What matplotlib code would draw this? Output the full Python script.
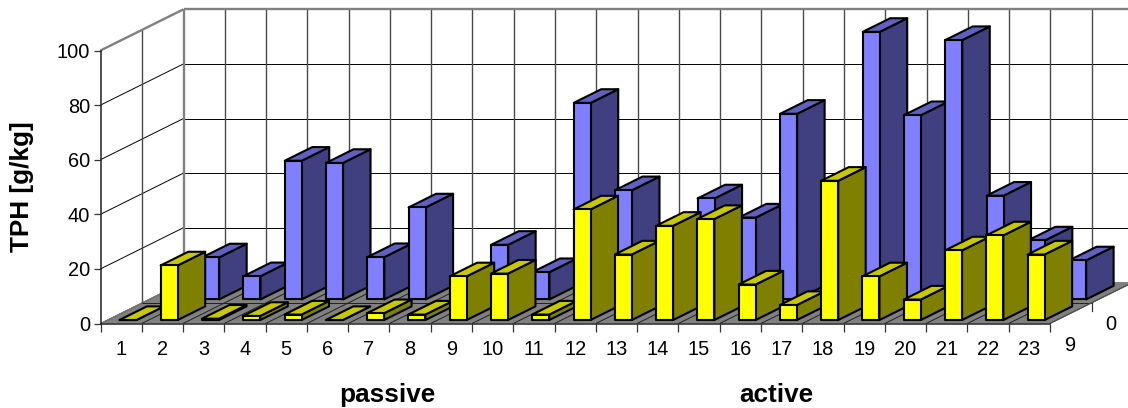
import matplotlib
matplotlib.use("Agg")
import matplotlib.pyplot as plt
from matplotlib.patches import Polygon

plt.rcParams['font.family'] = ['Liberation Sans', 'DejaVu Sans']

categories = [str(i) for i in range(1, 24)]
series_front = [0, 20, 0.5, 1.5, 2, 0, 2.5, 2, 16, 17, 2, 40.5, 24, 34.5, 37, 13, 5.5, 51, 16, 7.5, 25.5, 31, 24]
series_back = [6, 15.4, 8.5, 50.8, 50, 15.5, 33.7, 3, 20, 10, 72, 40, 15, 37, 30, 68, 20, 98, 67.5, 95, 38, 21.6, 14.3]
depth_labels = ['9', '0']
y_ticks = [0, 20, 40, 60, 80, 100]

W, H = 1128, 408
L, R, B, T = 100.5, 1050.0, 323.5, 50.5
fig = plt.figure(figsize=(W / 100, H / 100), dpi=100, facecolor='white')
ax = fig.add_axes([L / W, 1 - B / H, (R - L) / W, (B - T) / H])
ax.set_xlim(0, len(categories))
ax.set_ylim(0, 100)
ax.patch.set_visible(False)

PX_X = (R - L) / len(categories)   # pixels per category
PX_Y = (B - T) / 100               # pixels per value unit
ROW_DX = 41.5 / PX_X               # one depth row, in categories
ROW_DY = 20.6 / PX_Y               # one depth row, in value units
N_ROWS = len(depth_labels)


def proj(x, v, d):
    return x + d * ROW_DX, v + d * ROW_DY


GRID = '#000000'
WALL = '#808080'


def line(p, q, color=GRID, lw=0.7, z=1):
    ax.plot([p[0], q[0]], [p[1], q[1]], color=color, lw=lw, clip_on=False, zorder=z,
            solid_capstyle='butt')


n = len(categories)
# floor
ax.add_patch(Polygon([proj(0, 0, 0), proj(n, 0, 0), proj(n, 0, N_ROWS), proj(0, 0, N_ROWS)],
                     closed=True, fc=WALL, ec='none', clip_on=False, zorder=0.5))
# walls' grid
for v in y_ticks[1:-1] + [0]:
    line(proj(0, v, 0), proj(0, v, N_ROWS), GRID if v else WALL)
    line(proj(0, v, N_ROWS), proj(n, v, N_ROWS), GRID if v else WALL)
for c in range(1, n + 1):
    line(proj(c, 0, N_ROWS), proj(c, 100, N_ROWS), '#4a4a4a', 1.0)
line(proj(0, 0, 1), proj(0, 100, 1), '#4a4a4a', 1.0)
line(proj(0, 100, 0), proj(0, 100, N_ROWS), WALL, 1.7, 1.5)
line(proj(0, 100, N_ROWS), proj(n, 100, N_ROWS), WALL, 1.7, 1.5)
line(proj(0, 0, N_ROWS), proj(0, 100, N_ROWS), WALL, 1.7, 1.5)
# floor grid
for c in range(0, n + 1):
    line(proj(c, 0, 0), proj(c, 0, N_ROWS), '#222222', 0.7, 0.8)
line(proj(0, 0, 1), proj(n, 0, 1), '#222222', 0.7, 0.8)

BAR_W = 17.0 / PX_X
BAR_START = 18.9 / PX_X - 7.0 / 41.5 * ROW_DX
GAP_D = 7.0 / 41.5
BAR_D = 27.5 / 41.5


def bar(i, h, row, cols, z):
    x0 = i + BAR_START
    x1 = x0 + BAR_W
    d0 = row + GAP_D
    d1 = d0 + BAR_D
    kw = dict(closed=True, ec='black', lw=1.5, joinstyle='round', clip_on=False, zorder=z)
    ax.add_patch(Polygon([proj(x1, 0, d0), proj(x1, 0, d1), proj(x1, h, d1), proj(x1, h, d0)], fc=cols[2], **kw))
    ax.add_patch(Polygon([proj(x0, h, d0), proj(x1, h, d0), proj(x1, h, d1), proj(x0, h, d1)], fc=cols[1], **kw))
    ax.add_patch(Polygon([proj(x0, 0, d0), proj(x1, 0, d0), proj(x1, h, d0), proj(x0, h, d0)], fc=cols[0], **kw))


BLUE = ('#8080FF', '#6060C0', '#404080')
YELLOW = ('#FFFF00', '#C8C800', '#808000')
for i, h in enumerate(series_back):
    bar(i, h, 1, BLUE, 2 + i * 0.01)
for i, h in enumerate(series_front):
    bar(i, h, 0, YELLOW, 3 + i * 0.01)

# axes
for s in ('top', 'right'):
    ax.spines[s].set_visible(False)
for s in ('left', 'bottom'):
    ax.spines[s].set_linewidth(1.1)
    ax.spines[s].set_color('#222222')
    ax.spines[s].set_zorder(5)
ax.set_yticks(y_ticks)
ax.set_xticks(range(n + 1))
ax.set_xticklabels([])
ax.set_xticks([c + 0.5 for c in range(n)], minor=True)
ax.set_xticklabels(categories, minor=True)
ax.tick_params(axis='y', length=5, width=0.9, labelsize=14.4, pad=2.5, color='#333333')
ax.tick_params(axis='x', which='major', length=5.7, width=0.9, color='#333333')
ax.tick_params(axis='x', which='minor', length=0, labelsize=14.4, pad=12)

# depth axis
line(proj(n, 0, 0), proj(n, 0, N_ROWS), '#555555', 0.8, 4)
for k, lab in enumerate(depth_labels):
    p = proj(n, 0, k + 1)
    if k + 1 < N_ROWS:
        ax.plot([p[0], p[0]], [p[1], p[1] - 8 / PX_Y], color='#333333', lw=0.9, clip_on=False, zorder=4)
    q = proj(n, 0, k + 0.5)
    ax.annotate(lab, xy=q, xytext=(-1, -32), textcoords='offset pixels', fontsize=14.4,
                ha='center', va='center', annotation_clip=False)

fig.text(22.5 / W, 1 - 187 / H, 'TPH [g/kg]', rotation=90, fontsize=18.8, fontweight='bold', ha='center', va='center')
fig.text(387 / W, 1 - 402 / H, 'passive', fontsize=18.8, fontweight='bold', ha='center', va='baseline')
fig.text(776 / W, 1 - 402 / H, 'active', fontsize=18.8, fontweight='bold', ha='center', va='baseline')

fig.savefig('out.png', dpi=100, facecolor='white')
